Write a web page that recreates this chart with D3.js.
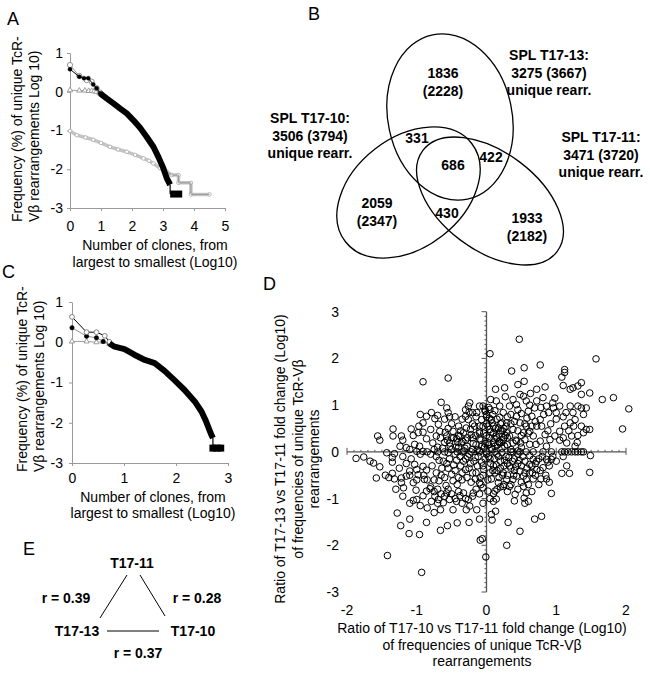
<!DOCTYPE html>
<html><head><meta charset="utf-8">
<script src="https://cdn.jsdelivr.net/npm/d3@7"></script>
<style>
body{margin:0;background:#fff}
svg{display:block}
text{font-family:"Liberation Sans",Arial,Helvetica,sans-serif}
</style>
</head><body>
<svg id="c" width="650" height="675"></svg>
<script>
// ---------------- DATA ----------------
// Panel A (log10 rank vs log10 frequency)
const aTicksX = [0,1,2,3,4,5];
const aTicksY = [1,0,-1,-2,-3];
const aBlackX = [0,0.3,0.45,0.59,0.75,0.86,0.97];
const aBlackY = [0.58,0.39,0.35,0.35,0.19,0.09,-0.04];
const aBandX = [0.97,1.18,1.4,1.61,1.83,2.04,2.26,2.47,2.69,2.85,3.01,3.12,3.23];
const aBandY = [-0.04,-0.17,-0.3,-0.43,-0.56,-0.73,-0.93,-1.16,-1.42,-1.68,-1.97,-2.23,-2.4];
const aTailX = [3.23,3.23,3.62];
const aTailY = [-2.4,-2.64,-2.64];
const aDarkX = [0,0.3,0.54,0.7,0.86,0.97];
const aDarkY = [0.69,0.41,0.3,0.26,0.09,-0.02];
const aTriX = [0,0.3,0.48,0.6,0.7,0.78,0.85,0.95];
const aTriY = [0.04,0.03,0.03,0.02,0.02,0.01,0.0,-0.04];
const aLightX = [0,0.22,0.5,0.75,1.0,1.29,1.55,1.83,2.1,2.37,2.55,2.69,2.9,3.12,3.28,3.5,3.5,3.9,3.9,4.5];
const aLightY = [-1.01,-1.12,-1.18,-1.24,-1.32,-1.42,-1.49,-1.55,-1.63,-1.72,-1.78,-1.85,-1.97,-2.06,-2.15,-2.15,-2.35,-2.35,-2.65,-2.65];

// Panel C
const cTicksX = [0,1,2,3];
const cTicksY = [1,0,-1,-2,-3];
const cOpenX = [0,0.28,0.47,0.63,0.72];
const cOpenY = [0.63,0.25,0.25,0.16,0.01];
const cDotX = [0,0.28,0.47,0.6,0.72];
const cDotY = [0.36,0.15,0.11,0.02,-0.03];
const cTriX = [0,0.28,0.47,0.6,0.72];
const cTriY = [0.02,0.02,0.0,0.01,-0.04];
const cBandX = [0.72,0.82,1.01,1.2,1.4,1.59,1.78,1.97,2.16,2.36,2.49,2.58,2.68,2.71];
const cBandY = [-0.03,-0.11,-0.17,-0.31,-0.44,-0.52,-0.71,-0.94,-1.18,-1.47,-1.72,-1.97,-2.3,-2.38];
const cTailX = [2.71,2.71,2.86];
const cTailY = [-2.38,-2.63,-2.63];

// Panel B (Venn)
const vennSetNames = ["SPL T17-13:","SPL T17-10:","SPL T17-11:"];
const vennSetTotals = [3275,3506,3471];
const vennSetTotalsAll = [3667,3794,3720];
const vennRegionValues = [1836,331,686,422,2059,430,1933];
const vennRegionAll = [2228,null,null,null,2347,null,2182];

// Panel D (scatter)
const dTicksX = [-2,-1,0,1,2];
const dTicksY = [3,2,1,0,-1,-2,-3];
const dPoints = [
[0.47,2.41],[0.05,2.1],[1.57,1.99],[0.77,1.86],[0.36,1.73],[0.54,1.8],[1.12,1.76],[1.12,1.7],[-0.55,1.58],[-0.91,1.5],
[0.54,1.51],[1.08,1.6],[0.45,1.44],[1.36,1.48],[1.1,1.42],[0.84,1.39],[0.72,1.34],[0.13,1.34],[0.26,1.37],[1.2,1.34],
[1.24,1.37],[1.31,1.41],[1.48,1.26],[1.36,1.23],[1.66,1.12],[1.82,1.16],[2.04,0.92],[1.95,0.49],[1.48,0.48],[1.49,-0.08],
[1.48,-0.44],[1.08,-0.46],[1.19,-0.46],[0.93,-0.89],[0.69,-1.44],[0.79,-1.38],[0.48,-1.7],[0.29,-2.0],[-0.06,-1.86],[-0.09,-1.89],
[-0.01,-2.25],[-0.93,-2.58],[-1.42,-2.22],[-0.96,-1.77],[-1.11,-1.75],[-1.23,-1.58],[-1.28,-1.31],[-1.1,-1.44],[-0.86,-1.51],[-0.66,-1.68],
[-0.56,-1.58],[-0.42,-1.52],[-0.25,-1.51],[-0.1,-1.44],[0.08,-1.46],[0.13,-1.27],[0.31,-1.51],[-1.87,-0.14],[-1.76,-0.11],[-1.67,-0.2],
[-1.62,-0.24],[-1.53,-0.32],[-1.58,-0.56],[-1.56,0.34],[-1.53,0.25],[-1.34,0.49],[-1.34,0.34],[-1.35,-0.22],[-1.43,-0.02],[-1.32,-0.04],
[-1.35,-0.46],[-1.32,-0.58],[-1.22,-0.56],[-1.22,-0.66],[-1.19,-0.77],[-1.24,0.12],[-1.15,0.09],[-1.22,0.34],[-1.08,0.49],[-1.05,0.35],
[-0.95,0.8],[-0.97,0.55],[-0.91,0.62],[-0.86,0.76],[-0.79,0.84],[-0.74,0.71],[-0.65,1.06],[-0.57,0.94],[-0.55,0.84],[-0.53,0.75],
[-0.69,0.59],[-0.8,0.48],[-0.98,0.41],[-0.91,0.42],[-0.86,0.28],[-1.03,0.16],[-0.96,0.12],[-1.0,0.01],[-0.91,0.01],[-1.08,-0.15],
[-1.03,-0.27],[-1.0,-0.38],[-0.98,-0.49],[-0.91,-0.31],[-0.86,-0.39],[-0.89,-0.59],[-1.05,-0.66],[-1.1,-0.41],[-1.15,-0.52],[-1.01,-0.82],
[-1.0,-1.02],[-1.05,-1.04],[-0.91,-0.94],[-0.86,-0.84],[-0.81,-0.79],[-0.79,-1.06],[-0.74,-0.95],[-0.69,-1.02],[-0.66,-1.24],[-0.62,-1.09],
[-0.57,-0.88],[-0.53,-1.02],[-0.48,-1.24],[-0.43,-1.06],[-0.38,-0.94],[-0.33,-0.88],[-0.26,-1.02],[-0.24,-1.16],[-0.14,-1.24],[-0.29,-1.24],
[-0.19,-0.88],[-0.1,-0.66],[-0.05,-0.77],[0.02,-0.84],[0.12,-0.84],[0.14,-1.01],[0.1,-1.06],[0.07,-1.34],[0.17,-0.66],[0.24,-0.45],
[0.29,-0.59],[0.38,-0.59],[0.43,-0.52],[0.48,-0.41],[0.53,-0.52],[0.57,-0.59],[0.62,-0.45],[0.67,-0.58],[0.72,-0.38],[0.78,-0.58],
[0.81,-0.34],[0.86,-0.58],[0.53,-0.74],[0.57,-0.88],[0.54,-0.99],[0.6,-1.06],[0.41,-0.91],[0.33,-0.74],[0.24,-0.74],[0.67,-0.16],
[0.62,-0.27],[0.55,-0.2],[0.72,-0.2],[0.86,-0.16],[0.93,-0.16],[-0.77,0.19],[-0.72,0.34],[-0.67,0.44],[-0.57,0.34],[-0.53,0.19],
[-0.48,0.44],[-0.43,0.28],[-0.38,0.34],[-0.36,0.19],[-0.33,0.41],[-0.29,0.51],[-0.26,0.69],[-0.3,0.76],[-0.26,0.98],[-0.24,1.05],
[-0.2,0.84],[-0.14,0.84],[-0.1,0.98],[-0.05,0.98],[-0.02,0.87],[-0.07,0.69],[-0.17,0.55],[-0.22,0.37],[-0.1,0.44],[-0.05,0.55],
[0.05,0.48],[0.07,0.69],[0.05,0.91],[0.06,1.12],[0.14,1.09],[0.19,0.98],[0.24,0.84],[0.29,0.62],[0.33,0.98],[0.38,1.12],
[0.43,1.01],[0.48,1.23],[0.53,1.19],[0.57,1.09],[0.6,0.87],[0.65,0.76],[0.69,0.94],[0.72,1.09],[0.81,1.16],[0.86,0.98],
[0.89,0.84],[0.96,0.94],[1.0,0.84],[1.05,0.98],[1.14,0.84],[1.2,0.98],[1.24,0.84],[1.31,0.98],[1.36,0.94],[1.43,0.94],
[1.39,0.8],[1.27,0.69],[1.2,0.62],[1.12,0.55],[1.05,0.44],[0.98,0.34],[0.91,0.26],[0.84,0.37],[0.79,0.55],[0.77,0.69],
[0.72,0.55],[0.67,0.34],[0.62,0.44],[0.57,0.55],[0.53,0.41],[0.48,0.62],[0.43,0.76],[0.38,0.48],[0.33,0.34],[0.29,0.41],
[0.24,0.26],[0.19,0.19],[0.14,0.34],[0.1,0.19],[0.17,0.51],[0.22,0.62],[0.38,0.19],[0.43,0.23],[0.49,0.19],[0.55,0.26],
[0.62,0.16],[0.71,0.16],[0.77,0.23],[0.86,0.12],[1.1,0.3],[1.22,0.34],[1.31,0.35],[1.39,0.41],[1.36,0.55],[1.43,0.48],
[1.15,0.19],[1.27,0.12],[0.81,0],[0.93,0],[1.08,0],[1.12,0],[1.17,0],[1.22,0],[1.27,0],[1.31,0],
[1.36,0],[1.39,0],[0.67,0],[0.57,0],[0.48,0],[0.38,0],
[-0.5,0.05],[-0.45,-0.05],[-0.4,0.1],[-0.38,-0.1],[-0.35,0.0],[-0.3,-0.15],[-0.28,0.12],[-0.25,-0.05],[-0.2,0.05],[-0.18,-0.2],
[-0.15,0.15],[-0.12,-0.1],[-0.1,0.0],[-0.08,0.25],[-0.05,-0.3],[-0.03,0.1],[0.0,-0.05],[0.02,0.2],[0.05,-0.15],[0.08,0.05],
[0.1,-0.3],[0.12,0.12],[0.15,-0.05],[0.18,0.22],[0.2,-0.2],[0.22,0.08],[0.25,0.3],[0.28,-0.1],[0.3,0.15],[0.33,-0.3],
[0.35,0.05],[0.4,-0.15],[0.42,0.25],[0.45,-0.05],[0.5,0.1],[-0.6,0.2],[-0.62,-0.2],[-0.55,-0.35],[-0.5,0.3],[-0.45,-0.4],
[-0.4,0.35],[-0.35,-0.45],[-0.3,0.25],[-0.25,-0.35],[-0.2,0.3],[-0.15,-0.45],[-0.1,0.4],[-0.05,-0.5],[0.0,0.35],[0.05,-0.45],
[0.1,0.4],[0.15,-0.4],[0.2,0.45],[0.25,-0.3],[0.3,0.3],[-0.7,0.1],[-0.72,-0.1],[-0.65,-0.5],[-0.8,-0.05],[-0.75,0.05],
[-0.78,-0.3],[-0.68,-0.62],[-0.58,-0.72],[-0.48,-0.62],[-0.42,-0.7],[-0.35,-0.6],[-0.28,-0.55],[-0.22,-0.65],[-0.16,-0.58],[-0.08,-0.7],
[0.02,-0.6],[0.07,-0.58],[0.12,-0.45],[0.18,-0.55],[0.3,-0.5],[0.35,-0.35],[0.4,-0.4],[0.45,-0.25],[-0.6,0],[-0.55,-0.02],
[-0.42,0],[-0.32,0.02],[-0.22,0],[-0.1,0.03],[0.0,0.0],[0.12,0.0],[0.22,-0.02],[0.35,0],[0.45,0.02],[-0.85,0.0],
[-0.95,-0.05],[-1.1,0.05],[-1.2,-0.1],[-0.7,0.0],[0.2,0.6],[0.15,0.7],[0.1,0.55],[0.25,0.5],[0.3,0.75],[0.35,0.6],
[0.45,0.45],[0.5,0.35],[0.55,0.6],[0.6,0.4],[0.65,0.55],[0.35,0.8],[-0.4,0.55],[-0.35,0.7],[-0.45,0.75],[-0.5,0.6],
[-0.55,0.5],[-0.2,0.6],[-0.15,0.75],[-0.1,0.55],[0.0,0.6],[0.0,0.75],[-0.02,0.9],[0.03,0.95],[0.0,0.8],[-0.3,0.9],
[-0.25,0.85],[-0.6,0.7],[-0.7,0.78],[-1.2,0.25],[-1.15,-0.25],[-1.25,-0.35],[-1.1,-0.5],[-1.0,-0.6],[-0.9,-0.5],[-0.85,-0.6],
[-0.8,-0.75],[-0.75,-0.85],[-0.7,-0.8],[-0.65,-0.9],[-0.6,-0.95],[-0.55,-0.8],[-0.5,-0.9],[-0.45,-1.0],[-0.4,-0.85],[-0.35,-1.1],
[-0.3,-1.0],[-0.2,-0.95],[-0.15,-0.8],[-0.1,-0.9],[-0.05,-1.1],[0.05,-1.0],[0.1,-0.9],[0.15,-0.8],[0.2,-0.75],[0.25,-0.7],
[0.3,-0.85],[-1.35,-0.12],[-1.45,-0.5],[-1.4,-0.55],[-1.3,-0.8],[-1.2,-0.95],[-1.1,-1.1],[-0.95,-1.15],[-0.85,-1.2],[-0.75,-1.3],
[-0.7,-1.1],[0.9,-0.3],[1.0,-0.2],[0.95,-0.1],[0.75,-0.15],[0.65,-0.3],[0.7,-0.5],[0.55,-0.45],[0.5,-0.65],[0.6,-0.7],
[0.45,-0.8],[0.35,-0.7],[0.4,-1.05],[0.55,-1.1],[0.65,-0.85],[0.75,-0.7],[0.85,-0.5],[1.1,-0.1],[1.15,-0.3],[0.9,-0.65],
[0.03,0.15],[0.04,0.3],[0.06,0.42],[0.08,0.62],[0.09,0.8],[0.11,0.28],[0.13,0.5],[0.16,0.15],[0.18,0.38],[0.21,0.2],
[0.23,0.45],[0.26,0.12],[0.27,0.35],[0.02,0.55],[0.04,0.72],[0.12,0.88],[0.19,0.74],[0.28,0.55],[0.07,0.08],[0.15,0.3],
[0.03,-0.1],[0.06,-0.25],[0.09,-0.4],[0.11,-0.15],[0.14,-0.28],[0.17,-0.1],[0.2,-0.35],[0.23,-0.5],[0.26,-0.18],[0.3,-0.25],
[0.32,-0.12],[0.37,-0.2],[0.39,-0.5],[0.42,-0.32],[0.47,-0.18],[0.5,-0.3],[0.52,-0.1],[0.58,-0.35],[0.62,-0.08],[0.66,-0.45],
[0.7,-0.25],[0.77,-0.4],[0.8,-0.1],[0.88,-0.22],[-0.02,0.18],[-0.04,0.4],[-0.07,0.12],[-0.1,0.28],[-0.13,0.05],[-0.16,0.35],
[-0.19,0.18],[-0.23,0.48],[-0.27,0.3],[-0.31,0.08],[-0.34,0.22],[-0.37,0.45],[-0.41,0.2],[-0.44,0.1],[-0.47,0.3],[-0.52,0.12],
[-0.56,0.25],[-0.59,0.42],[-0.63,0.08],[-0.66,0.3],[-0.02,-0.15],[-0.04,-0.38],[-0.07,-0.22],[-0.09,-0.55],[-0.13,-0.3],[-0.16,-0.12],
[-0.2,-0.45],[-0.23,-0.25],[-0.27,-0.1],[-0.3,-0.38],[-0.33,-0.2],[-0.37,-0.3],[-0.4,-0.55],[-0.43,-0.18],[-0.47,-0.28],[-0.5,-0.48],
[-0.53,-0.15],[-0.57,-0.25],[-0.6,-0.55],[-0.64,-0.35],[-0.68,-0.18],[-0.72,-0.45],[-0.75,-0.6],[0.45,0.9],[0.62,1.0],[0.7,0.65],
[0.82,0.8],[0.92,0.6],[1.0,0.7],[1.1,0.75],[1.18,0.45],[1.25,0.55],[0.95,1.05],[0.78,0.95],[0.58,0.72],[0.5,0.82],
[0.4,0.65],[0.88,0.45],[1.05,0.25],[0.27,1.18],[0.63,1.25],[0.98,1.15],[1.3,0.2]
];

// Panel E (correlations)
const eNodes = ["T17-11","T17-13","T17-10"];
const ePairs = [["T17-11","T17-13"],["T17-11","T17-10"],["T17-13","T17-10"]];
const eR = [0.39,0.28,0.37];

// ---------------- DRAWING ----------------
const svg = d3.select("#c");
const FS = 14;
const zip = (xs, ys) => xs.map((v,i)=>[v, ys[i]]);
const fmt = d => String(d);

function label(t,x,y){ svg.append("text").attr("x",x).attr("y",y).attr("font-size",18).text(t); }

function axesLog(x, y, tx, ty, xPad, yPad, axisColor){
  const gx = svg.append("g").attr("transform",`translate(0,${y(-3)})`)
    .call(d3.axisBottom(x).tickValues(tx).tickFormat(fmt).tickSize(3).tickSizeOuter(0).tickPadding(xPad));
  const gy = svg.append("g").attr("transform",`translate(${x(0)},0)`)
    .call(d3.axisLeft(y).tickValues(ty).tickFormat(fmt).tickSize(3).tickSizeOuter(0).tickPadding(yPad));
  [gx,gy].forEach(g=>{
    g.select(".domain").attr("stroke",axisColor).attr("stroke-width",1);
    g.selectAll(".tick line").attr("stroke",axisColor);
    g.selectAll("text").attr("font-size",FS).attr("fill","#000").attr("font-family","Liberation Sans, Arial, sans-serif");
  });
}

function line(x,y,pts,stroke,w){
  svg.append("path").datum(pts)
    .attr("d", d3.line().x(d=>x(d[0])).y(d=>y(d[1])))
    .attr("fill","none").attr("stroke",stroke).attr("stroke-width",w)
    .attr("stroke-linejoin","round").attr("stroke-linecap","butt");
}
function dots(x,y,pts,r,fill,stroke,sw){
  svg.append("g").selectAll("circle").data(pts).join("circle")
    .attr("cx",d=>x(d[0])).attr("cy",d=>y(d[1])).attr("r",r)
    .attr("fill",fill).attr("stroke",stroke).attr("stroke-width",sw);
}
function tris(x,y,pts,stroke){
  svg.append("g").selectAll("path").data(pts).join("path")
    .attr("transform",d=>`translate(${x(d[0])},${y(d[1])})`)
    .attr("d", d3.symbol(d3.symbolTriangle, 12)())
    .attr("fill","#fff").attr("stroke",stroke).attr("stroke-width",0.8);
}
function squares(x,y,pts){
  svg.append("g").selectAll("rect").data(pts).join("rect")
    .attr("x",d=>x(d[0])-3.5).attr("y",d=>y(d[1])-3.5).attr("width",7).attr("height",7).attr("fill","#000");
}
function rotTitle(lines, xs, yStart, anchor){
  lines.forEach((t,i)=>{
    svg.append("text").attr("transform",`translate(${xs[i]},${yStart}) rotate(-90)`)
      .attr("text-anchor",anchor).attr("font-size",FS).text(t);
  });
}
function hTitle(lines, cx, ys){
  lines.forEach((t,i)=>{
    svg.append("text").attr("x",cx).attr("y",ys[i]).attr("text-anchor","middle").attr("font-size",FS).text(t);
  });
}

// ---- Panel A ----
label("A",7,25);
const xA = d3.scaleLinear().domain([0,5]).range([70,225]);
const yA = d3.scaleLinear().domain([-3,1]).range([208,53]);
axesLog(xA,yA,aTicksX,aTicksY,10,4,"#9a9a9a");
line(xA,yA,zip(aLightX,aLightY),"#c4c4c4",3.5);
dots(xA,yA,zip(aLightX,aLightY),1.8,"#fff","#aaa",0.8);
line(xA,yA,zip(aLightX,aLightY).slice(13),"#9a9a9a",1);
line(xA,yA,zip(aTriX,aTriY),"#8a8a8a",0.8);
tris(xA,yA,zip(aTriX,aTriY),"#8a8a8a");
line(xA,yA,zip(aDarkX,aDarkY),"#777",0.8);
dots(xA,yA,zip(aDarkX,aDarkY),2.6,"#fff","#888",0.9);
line(xA,yA,zip(aBlackX,aBlackY),"#000",1);
dots(xA,yA,zip(aBlackX,aBlackY),2,"#000","#000",0.5);
line(xA,yA,zip(aBandX,aBandY),"#000",6);
line(xA,yA,zip(aTailX,aTailY).slice(0,2),"#000",1.2);
line(xA,yA,zip(aTailX,aTailY).slice(1),"#000",7);
rotTitle(["Frequency (%) of unique TcR-","Vβ rearrangements Log 10)"],[22,39],222,"start");
hTitle(["Number of clones, from","largest to smallest (Log10)"],155,[250,267]);

// ---- Panel C ----
label("C",2,278);
const xC = d3.scaleLinear().domain([0,3]).range([72,228]);
const yC = d3.scaleLinear().domain([-3,1]).range([463,302]);
axesLog(xC,yC,cTicksX,cTicksY,7,6,"#9a9a9a");
line(xC,yC,zip(cTriX,cTriY),"#8a8a8a",0.8);
tris(xC,yC,zip(cTriX,cTriY),"#8a8a8a");
line(xC,yC,zip(cDotX,cDotY),"#777",0.8);
dots(xC,yC,zip(cDotX,cDotY),2.2,"#000","#000",0.5);
line(xC,yC,zip(cOpenX,cOpenY),"#000",1);
dots(xC,yC,zip(cOpenX,cOpenY),2.4,"#fff","#777",0.9);
line(xC,yC,zip(cBandX,cBandY),"#000",6);
line(xC,yC,zip(cTailX,cTailY).slice(0,2),"#000",1.2);
squares(xC,yC,zip(cTailX,cTailY).slice(1));
line(xC,yC,zip(cTailX,cTailY).slice(1),"#000",7);
rotTitle(["Frequency (%) of unique TcR-","Vβ rearrangements Log 10)"],[27,44],472,"start");
hTitle(["Number of clones, from","largest to smallest (Log10)"],153,[502,518]);

// ---- Panel B (Venn) ----
label("B",308,20);
const vennEllipses = [
  {cx:450, cy:117, rx:62, ry:84, rot:-12},
  {cx:408.5, cy:192.5, rx:80, ry:55, rot:-38},
  {cx:490, cy:201, rx:84, ry:49, rot:37}
];
svg.append("g").selectAll("ellipse").data(vennEllipses).join("ellipse")
  .attr("transform",d=>`translate(${d.cx},${d.cy}) rotate(${d.rot})`)
  .attr("rx",d=>d.rx).attr("ry",d=>d.ry)
  .attr("fill","none").attr("stroke","#000").attr("stroke-width",1.3);
const setLabelPos = [{x:549,y:60},{x:310,y:123},{x:601,y:142}];
vennSetNames.forEach((n,i)=>{
  const g = svg.append("g").attr("font-weight","bold").attr("font-size",FS).attr("text-anchor","middle");
  const p = setLabelPos[i];
  [n, `${vennSetTotals[i]} (${vennSetTotalsAll[i]})`, "unique rearr."].forEach((t,j)=>{
    g.append("text").attr("x",p.x).attr("y",p.y+j*17.5).text(t);
  });
});
const regionPos = [{x:443,y:78},{x:417,y:143},{x:453,y:170},{x:491,y:162},{x:377,y:208},{x:447,y:218},{x:527,y:223}];
vennRegionValues.forEach((v,i)=>{
  const p = regionPos[i];
  const g = svg.append("g").attr("font-weight","bold").attr("font-size",FS).attr("text-anchor","middle");
  g.append("text").attr("x",p.x).attr("y",p.y).text(v);
  if (vennRegionAll[i] !== null) g.append("text").attr("x",p.x).attr("y",p.y+17.5).text(`(${vennRegionAll[i]})`);
});

// ---- Panel D (scatter) ----
label("D",263,290);
const xD = d3.scaleLinear().domain([-2,2]).range([347,626]);
const yD = d3.scaleLinear().domain([-3,3]).range([592,311.7]);
const axC = "#555";
const gD = svg.append("g").attr("stroke",axC);
gD.append("line").attr("x1",xD(-2)).attr("x2",xD(2)).attr("y1",yD(0)).attr("y2",yD(0)).attr("stroke-width",1.3);
gD.append("line").attr("x1",xD(0)).attr("x2",xD(0)).attr("y1",yD(3)).attr("y2",yD(-3)).attr("stroke-width",1.3);
d3.range(-20,21).forEach(k=>{
  const v = k/10, major = k%10===0;
  gD.append("line").attr("x1",xD(v)).attr("x2",xD(v)).attr("y1",yD(0)+(major?3:0)).attr("y2",yD(0)-(major?4:2)).attr("stroke-width",1);
});
d3.range(-30,31).forEach(k=>{
  const v = k/10, major = k%10===0;
  gD.append("line").attr("x1",xD(0)-(major?5:2)).attr("x2",xD(0)).attr("y1",yD(v)).attr("y2",yD(v)).attr("stroke-width",1);
});
svg.append("g").selectAll("text").data(dTicksY).join("text")
  .attr("x",339).attr("y",d=>yD(d)+5).attr("text-anchor","end").attr("font-size",FS).text(fmt);
svg.append("g").selectAll("text").data(dTicksX).join("text")
  .attr("x",d=>xD(d)).attr("y",615).attr("text-anchor","middle").attr("font-size",FS).text(fmt);
svg.append("g").selectAll("circle").data(dPoints).join("circle")
  .attr("cx",d=>xD(d[0])).attr("cy",d=>yD(d[1])).attr("r",3.3)
  .attr("fill","none").attr("stroke","#000").attr("stroke-width",1);
["Ratio of T17-13 vs T17-11 fold change (Log10)","of frequencies of unique TcR-Vβ","rearrangements"].forEach((t,i)=>{
  svg.append("text").attr("transform",`translate(${[285,303,319][i]},459) rotate(-90)`)
    .attr("text-anchor","middle").attr("font-size",FS).text(t);
});
hTitle(["Ratio of T17-10 vs T17-11 fold change (Log10)","of frequencies of unique TcR-Vβ","rearrangements"],482,[633,650,666]);

// ---- Panel E ----
label("E",23,555);
const eLayout = {"T17-11":{x:132,y:568},"T17-13":{x:77,y:636},"T17-10":{x:193,y:636}};
const eEdges = [
  {x1:127,y1:575,x2:100,y2:618, lx:66, ly:603},
  {x1:140,y1:575,x2:165,y2:616, lx:197, ly:603},
  {x1:107,y1:631,x2:159,y2:631, lx:138, ly:658}
];
eNodes.forEach(n=>{
  svg.append("text").attr("x",eLayout[n].x).attr("y",eLayout[n].y).attr("text-anchor","middle")
    .attr("font-weight","bold").attr("font-size",FS).text(n);
});
ePairs.forEach((p,i)=>{
  const e = eEdges[i];
  svg.append("line").attr("x1",e.x1).attr("y1",e.y1).attr("x2",e.x2).attr("y2",e.y2).attr("stroke","#000").attr("stroke-width",1);
  svg.append("text").attr("x",e.lx).attr("y",e.ly).attr("text-anchor","middle")
    .attr("font-weight","bold").attr("font-size",FS).text(`r = ${eR[i].toFixed(2)}`);
});
</script>
</body></html>
